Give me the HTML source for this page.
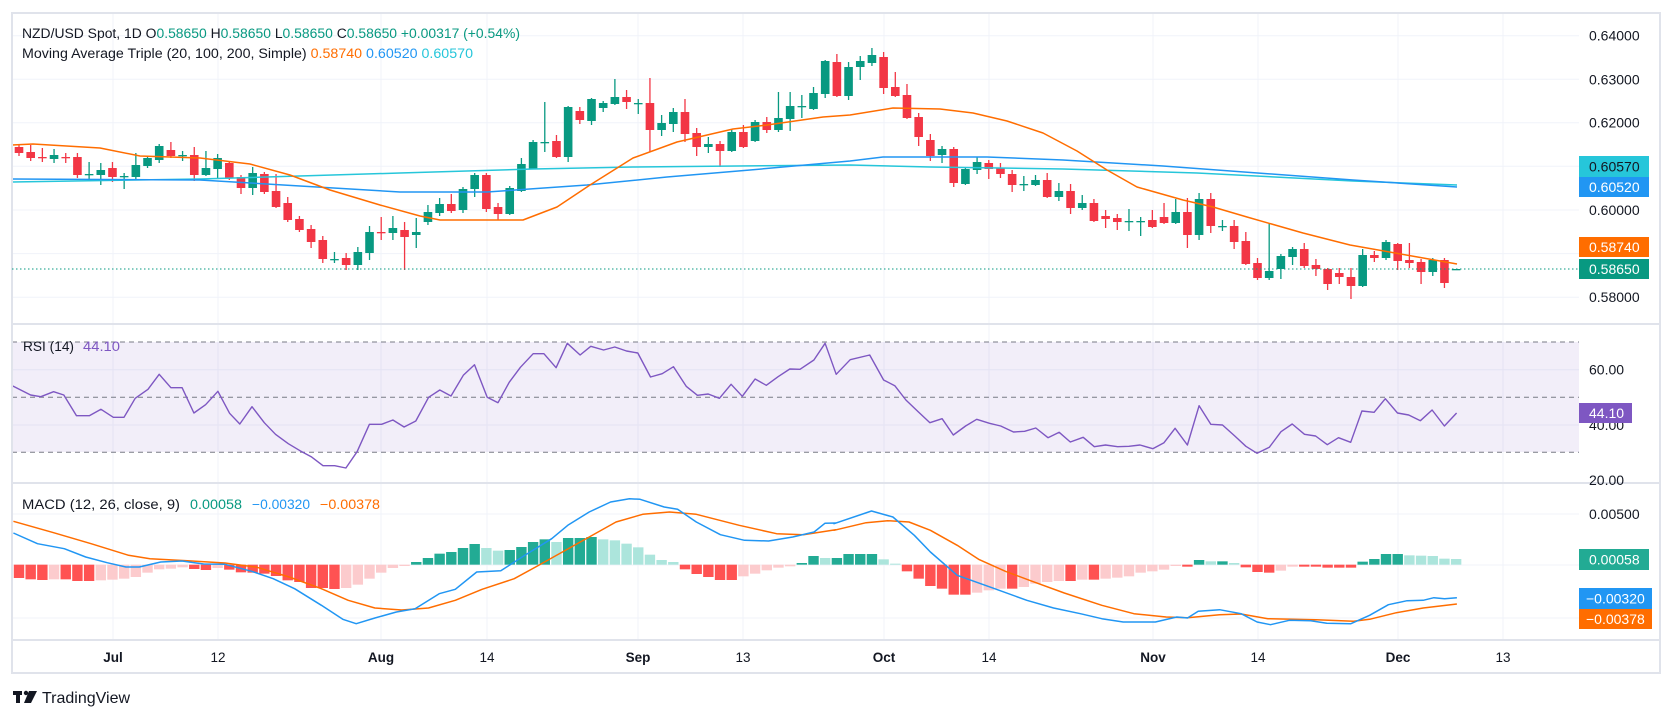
<!DOCTYPE html>
<html><head><meta charset="utf-8">
<style>
html,body{margin:0;padding:0;background:#fff;}
body{width:1674px;height:718px;overflow:hidden;}
svg{display:block;font-family:"Liberation Sans",sans-serif;}
</style></head>
<body>
<svg id="s" width="1674" height="718" viewBox="0 0 1674 718" xmlns="http://www.w3.org/2000/svg">
<rect x="0" y="0" width="1674" height="718" fill="#fff"/>
<g id="grid" stroke="#f0f3fa" stroke-width="1"></g>
<!-- RSI band -->
<rect x="12" y="342" width="1567" height="110" fill="#7e57c2" fill-opacity="0.1"/>
<g stroke="#787b86" stroke-width="1" stroke-dasharray="5,4">
<line x1="12" y1="342" x2="1579" y2="342"/>
<line x1="12" y1="397.3" x2="1579" y2="397.3"/>
<line x1="12" y1="452.3" x2="1579" y2="452.3"/>
</g>
<g id="plot"></g>
<!-- borders -->
<g fill="none" stroke="#e0e3eb" stroke-width="2">
<rect x="12" y="13" width="1648" height="660"/>
<line x1="12" y1="324" x2="1660" y2="324"/>
<line x1="12" y1="483" x2="1660" y2="483"/>
<line x1="12" y1="640" x2="1660" y2="640"/>
</g>
<!-- current price dotted -->
<line x1="12" y1="269" x2="1579" y2="269" stroke="#089981" stroke-width="1" stroke-dasharray="1.5,2.5"/>
<!-- legends -->
<g font-size="13.5" fill="#131722">
<text x="22" y="38" textLength="498" lengthAdjust="spacingAndGlyphs">NZD/USD Spot, 1D  O<tspan fill="#089981">0.58650</tspan>  H<tspan fill="#089981">0.58650</tspan>  L<tspan fill="#089981">0.58650</tspan>  C<tspan fill="#089981">0.58650  +0.00317 (+0.54%)</tspan></text>
<text x="22" y="58" textLength="451" lengthAdjust="spacingAndGlyphs">Moving Average Triple (20, 100, 200, Simple)  <tspan fill="#ff6d00">0.58740</tspan>  <tspan fill="#2196f3">0.60520</tspan>  <tspan fill="#26c6da">0.60570</tspan></text>
<text x="23" y="351" textLength="51" lengthAdjust="spacingAndGlyphs">RSI (14)</text>
<text x="83" y="351" fill="#7e57c2" textLength="37" lengthAdjust="spacingAndGlyphs">44.10</text>
<text x="22" y="509" textLength="158" lengthAdjust="spacingAndGlyphs">MACD (12, 26, close, 9)</text>
<text x="190" y="509" fill="#089981" textLength="52" lengthAdjust="spacingAndGlyphs">0.00058</text>
<text x="252" y="509" fill="#2196f3" textLength="58" lengthAdjust="spacingAndGlyphs">−0.00320</text>
<text x="320" y="509" fill="#ff6d00" textLength="60" lengthAdjust="spacingAndGlyphs">−0.00378</text>
</g>
<!-- price axis -->
<g font-size="14" fill="#131722">
<text x="1589" y="40.7">0.64000</text>
<text x="1589" y="84.3">0.63000</text>
<text x="1589" y="127.7">0.62000</text>
<text x="1589" y="215">0.60000</text>
<text x="1589" y="302">0.58000</text>
<text x="1589" y="374.7">60.00</text>
<text x="1589" y="430">40.00</text>
<text x="1589" y="485">20.00</text>
<text x="1589" y="519">0.00500</text>
</g>
<g font-size="14" fill="#fff">
<rect x="1579" y="156" width="70" height="21" fill="#26c6da"/><text x="1589" y="171.5" fill="#131722">0.60570</text>
<rect x="1579" y="177" width="70" height="20" fill="#2196f3"/><text x="1589" y="192">0.60520</text>
<rect x="1579" y="237" width="70" height="20" fill="#ff6d00"/><text x="1589" y="252">0.58740</text>
<rect x="1579" y="259" width="70" height="20" fill="#089981"/><text x="1589" y="274">0.58650</text>
<rect x="1579" y="403" width="53" height="20" fill="#7e57c2"/><text x="1589" y="418">44.10</text>
<rect x="1579" y="549" width="70" height="21" fill="#22ab94"/><text x="1589" y="564.5">0.00058</text>
<rect x="1579" y="588" width="73" height="21" fill="#2196f3"/><text x="1586" y="603.5">−0.00320</text>
<rect x="1579" y="609" width="73" height="20" fill="#ff6d00"/><text x="1586" y="624">−0.00378</text>
</g>
<!-- x axis -->
<g font-size="13.5" fill="#131722" text-anchor="middle">
<text x="113" y="662" font-weight="bold">Jul</text>
<text x="218" y="662">12</text>
<text x="381" y="662" font-weight="bold">Aug</text>
<text x="487" y="662">14</text>
<text x="638" y="662" font-weight="bold">Sep</text>
<text x="743" y="662">13</text>
<text x="884" y="662" font-weight="bold">Oct</text>
<text x="989" y="662">14</text>
<text x="1153" y="662" font-weight="bold">Nov</text>
<text x="1258" y="662">14</text>
<text x="1398" y="662" font-weight="bold">Dec</text>
<text x="1503" y="662">13</text>
</g>
<!-- logo -->
<g fill="#131722">
<rect x="13" y="691" width="9" height="4"/><rect x="16" y="691" width="4" height="12"/>
<circle cx="26" cy="693" r="2.2"/><polygon points="29,691 37,691 31,703 24,703"/>
<text x="42" y="703" font-size="16">TradingView</text>
</g>
</svg>
<script>
(function(){
var NS="http://www.w3.org/2000/svg";
function el(p,n,a){var e=document.createElementNS(NS,n);for(var k in a)e.setAttribute(k,a[k]);p.appendChild(e);return e;}
var grid=document.getElementById('grid'), plot=document.getElementById('plot');
// vertical grid
[113,218,381,487,638,743,884,989,1153,1258,1398,1503].forEach(function(x){el(grid,'line',{x1:x,y1:13,x2:x,y2:640});});
// horizontal grid
[35.7,79.3,122.7,166.3,210,253.6,297.2,369.7,425,514,565,618].forEach(function(y){el(grid,'line',{x1:12,y1:y,x2:1579,y2:y});});
function X(i){return 19+i*11.684;}
// candles [open,close,wickTop,wickBot]
var C=[[147,153,144,156],[152,158,145,161],[157,157.5,148,162],[159,155,149,163],[157,157.5,153,163],[157,175,153,178],[174.5,174,162,180],[175,170,163,185],[168,177,162,182],[176.5,176,173,189],
[177,165,153,180],[166,158,156,168],[160,146,144,163],[150,156,142,158],[155.5,155,151,161],[155,175,147,181],[175,168,151,176],[169,158,154,178],[163,178,161,180],[177,188,175,194],
[188,173,167,195],[174,192,172,194],[191,207,174,208],[203,220,197,222],[219,230,216,232],[229,242,225,248],[240,259,236,263],[259.5,259,252,263],[258,265,253,270],[265,252,247,270],
[253,232,226,260],[232,232.5,217,240],[233,228,216,240],[230,237,222,270],[235,232,218,248],[222,212,205,225],[213,204,198,216],[204,211,194,213],[210,189,187,213],[189,175,173,197],
[175,209,173,212],[207,214,203,220],[214,188,186,215],[191,164,158,192],[169,142,140,169],[142.5,142,102,152],[141,157,135,158],[157,107,106,162],[111,120,107,124],[121,99,98,125],
[108,103,101,112],[104,97,79,105],[97,102,90,109],[103.5,103,99,114],[103,130,78,152],[130,123,115,136],[124,112,108,132],[112,134,99,142],[133,147,128,156],[147,144,137,153],
[144,151,141,167],[151,132,130,152],[132,147,125,148],[141,122,120,142],[122,130,117,133],[130,118,92,132],[119,106,92,131],[106.5,106,95,118],[109,93,87,110],[94,61,60,98],
[62,96,54,97],[96,67,62,100],[67,61,56,80],[63,55,48,66],[57,88,52,94],[87,96,72,97],[95,118,84,119],[117,137,113,146],[140,156,134,161],[155,149,146,163],
[149,183,147,187],[184,169,167,185],[170,162,157,174],[163,169,160,179],[168,174,163,178],[174,185,170,192],[184.5,184,176,191],[185,180,175,186],[180,197,173,198],[197,191,183,201],
[191,208,184,214],[208,203,195,210],[203,221,199,222],[216,219,210,228],[218,222,214,230],[221.5,221,209,231],[221.5,221,217,236],[220,227,210,228],[217,223,203,224],[223,212,199,224],
[212,235,198,248],[235,199,193,240],[199,226,193,233],[226.5,226,220,231],[226,242,220,249],[241,264,232,265],[263,278,258,280],[278,271,223,280],[269,256,254,279],[257,249,247,265],
[249,266,243,268],[265,269,259,276],[269,284,268,290],[273,277,268,284],[277,286,268,299],[286,255,249,287],[255,258,251,262],[258,242,240,260],[244,261,243,270],[260,263,243,268],
[262,272,259,284],[272,260,258,276],[260,283,258,288],[269,269,269,269]];
C.forEach(function(c,i){
  var x=X(i),g=c[1]<c[0]||(c[1]==c[0]),col=g?'#089981':'#f23645';
  el(plot,'line',{x1:x,y1:c[2],x2:x,y2:c[3],stroke:col,'stroke-width':1.3});
  var t=Math.min(c[0],c[1]),h=Math.max(Math.abs(c[1]-c[0]),1.3);
  el(plot,'rect',{x:x-4.3,y:t,width:8.6,height:h,fill:col});
});
function pl(pts,col,w){el(plot,'polyline',{points:pts.map(function(p){return p[0].toFixed(1)+','+p[1].toFixed(1);}).join(' '),fill:'none',stroke:col,'stroke-width':w||1.5,'stroke-linejoin':'round'});}
// MAs
pl([[12,182],[200,179],[400,173],[533,169],[633,167],[850,165],[930,167],[1063,169],[1197,173],[1353,181],[1457,185]],'#26c6da');
pl([[12,179],[200,180],[300,186],[400,192],[487,192],[587,185],[667,177],[750,170],[850,161],[883,157],[987,157],[1063,160],[1163,166],[1353,180],[1457,187]],'#2196f3');
pl([[12,145],[33,144],[100,148],[140,156],[200,158],[250,164],[290,175],[330,190],[380,205],[420,216],[440,220],[523,220],[557,207],[590,185],[633,158],[677,142],[733,129],[767,125],[823,117],[850,115],[893,108],[940,109],[973,113],[1007,121],[1043,133],[1077,151],[1107,170],[1137,187],[1183,200],[1213,207],[1247,217],[1303,233],[1350,245],[1457,264]],'#ff6d00');
// RSI
var r1=[[25,198],[60,225],[80,230],[105,215],[125,225],[150,287],[175,287],[198,268],[222,292],[243,292],[265,235],[290,208],[312,163],[335,203],[357,203],[380,279],[403,254],[427,214],[450,280],[470,312],[494,260],[518,308],[540,343],[565,371],[588,392],[610,410],[633,437],[656,437],[678,444],[700,395],[724,313],[748,313],[770,300],[792,321],[815,303],[840,232],[862,210],[884,228],[908,166],[930,134],[955,232],[976,248],[998,187],[1020,142],[1045,101],[1066,101],[1090,143],[1112,70],[1137,105],[1158,79],[1183,90],[1205,81],[1228,93],[1250,99],[1275,171],[1298,161],[1320,140],[1345,199],[1367,226],[1388,222],[1410,235],[1433,193],[1455,229],[1480,177],[1502,196],[1525,170],[1548,147]].map(function(p){return [p[0]/1.96,320+p[1]/3];});
var r2=[[0,148],[25,120],[45,70],[65,163],[90,119],[125,105],[150,180],[170,197],[190,240],[212,275],[233,308],[255,296],[275,345],[297,318],[317,298],[340,310],[360,318],[383,336],[403,334],[423,324],[445,353],[465,337],[485,366],[508,352],[528,380],[548,375],[570,380],[590,379],[610,375],[633,386],[653,368],[673,325],[695,375],[716,257],[737,313],[758,315],[780,348],[800,379],[820,400],[842,382],[863,335],[883,312],[905,343],[925,348],[946,374],[966,353],[988,367],[1008,273],[1030,277],[1050,236],[1072,279],[1092,285],[1113,302],[1134,270],[1156,318],[1178,279]].map(function(p){return [800+p[0]/1.794,320+p[1]/3];});
pl(r1.concat(r2),'#7e57c2',1.4);
// MACD histogram
var H=[288,292,294,292,292,297,297,295,293,290,285,272,262,260,256,261,264,258,263,271,272,275,282,295,300,318,318,321,318,308,290,272,258,252,240,228,215,210,198,186,198,206,204,195,180,172,180,168,168,165,172,175,185,196,218,234,240,262,276,285,294,294,283,275,265,257,253,243,222,228,
228,216,216,216,232,245,268,290,312,320,338,338,332,325,320,320,315,305,300,297,297,293,293,290,287,283,272,268,263,252,254,234,238,238,243,256,270,272,266,254,254,254,257,257,257,239,231,216,216,220,221,222,230,231];
var Z=482+248/3;
H.forEach(function(h,i){
  var y=482+h/3,v=248-h,pv=i?248-H[i-1]:v,col;
  if(v>=0)col=(v>=pv)?'#22ab94':'#ace5dc';else col=(v<=pv)?'#ff5252':'#fccbcd';
  el(plot,'rect',{x:X(i)-5.2,y:Math.min(y,Z),width:10.4,height:Math.max(Math.abs(y-Z),0.8),fill:col});
});
function m10(a){return a.map(function(p){return [p[0]/1.867,482+p[1]/3];});}
function m11(a){return a.map(function(p){return [834+p[0]/1.867,482+p[1]/3];});}
var sig=m10([[25,118],[100,152],[170,185],[240,220],[280,230],[350,236],[420,243],[480,256],[540,285],[600,320],[650,355],[700,378],[750,384],[800,378],[850,355],[900,322],[960,290],[1000,255],[1050,210],[1100,165],[1150,120],[1200,97],[1250,90],[1300,97],[1380,130],[1450,155],[1500,158],[1560,143]]).concat(m11([[0,145],[60,122],[100,116],[140,120],[180,145],[230,190],[270,232],[320,268],[370,298],[430,333],[500,370],[560,395],[620,405],[660,407],[720,398],[760,396],[810,410],[900,413],[970,418],[1000,412],[1050,392],[1100,378],[1163,366]]));
var mac=m10([[25,153],[70,185],[120,200],[160,225],[200,242],[235,255],[260,255],[300,240],[340,237],[380,246],[420,247],[470,268],[510,290],[550,320],[600,370],[640,412],[665,425],[700,408],[740,390],[775,380],[820,335],[850,322],[890,270],[935,266],[980,220],[1030,170],[1060,130],[1100,90],[1140,60],[1175,50],[1195,52],[1240,75],[1265,82],[1300,120],[1345,158],[1390,175],[1435,177],[1480,165],[1520,150],[1540,124],[1560,123]]).concat(m11([[0,125],[70,87],[110,105],[150,160],[180,210],[230,280],[300,320],[360,355],[410,378],[460,395],[500,410],[540,420],[600,420],[640,405],[660,408],[680,388],[720,383],[760,395],[790,420],[815,428],[850,415],[890,416],[920,424],[965,425],[1000,400],[1035,368],[1070,356],[1100,355],[1120,347],[1140,350],[1163,347]]));
pl(sig,'#ff6d00',1.5);
pl(mac,'#2196f3',1.5);
})();
</script>
</body></html>
